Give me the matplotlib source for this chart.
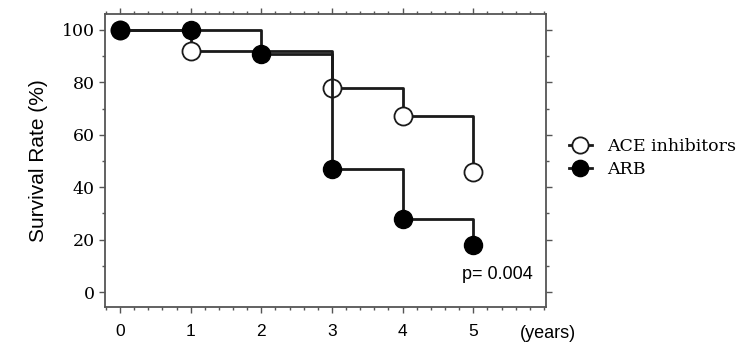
import matplotlib

matplotlib.use("Agg")
import matplotlib.pyplot as plt
from matplotlib.ticker import MultipleLocator

# Kaplan-Meier style survival data (years, %)
ace_years = [0, 1, 3, 4, 5]
ace_survival = [100, 92, 78, 67, 46]
arb_years = [0, 1, 2, 3, 4, 5]
arb_survival = [100, 100, 91, 47, 28, 18]
x_ticks = [0, 1, 2, 3, 4, 5]
y_ticks = [0, 20, 40, 60, 80, 100]

line_col = "#1a1a1a"
spine_col = "#555555"
serif = ["DejaVu Serif"]
sans = ["Liberation Sans", "DejaVu Sans"]

fig = plt.figure(figsize=(7.49, 3.48), dpi=100)
ax = fig.add_axes([0.1402, 0.1178, 0.729 - 0.1402, 0.9598 - 0.1178])

ax.plot(ace_years, ace_survival, drawstyle="steps-post", color=line_col, lw=2,
        marker="o", ms=13, mfc="white", mec=line_col, mew=1.3, label="ACE inhibitors", zorder=3)
ax.plot(arb_years, arb_survival, drawstyle="steps-post", color=line_col, lw=2,
        marker="o", ms=13, mfc="black", mec="black", label="ARB", zorder=4)

ax.set_xlim(-0.212, 6.03)
ax.set_ylim(-5.7, 106.1)

ax.set_xticks(x_ticks)
ax.set_xticklabels([str(t) for t in x_ticks], family=sans, fontsize=12.5)
ax.xaxis.set_minor_locator(MultipleLocator(0.2))
ax.set_yticks(y_ticks)
ax.set_yticklabels([str(v) for v in y_ticks], family=serif, fontsize=12.5)
ax.yaxis.set_minor_locator(MultipleLocator(10))

ax.tick_params(which="both", direction="out", color=spine_col, top=True, right=True,
               labeltop=False, labelright=False)
ax.tick_params(which="major", length=4, width=1)
ax.tick_params(which="minor", length=2, width=1)
ax.tick_params(axis="x", pad=8)
for s in ax.spines.values():
    s.set_color(spine_col)
    s.set_linewidth(1.3)

ax.set_ylabel("Survival Rate (%)", family=sans, fontsize=15, labelpad=10)
ax.text(1.005, -0.09, "(years)", transform=ax.transAxes, family=sans, fontsize=13,
        ha="center", va="center")
ax.text(0.97, 0.11, "p= 0.004", transform=ax.transAxes, family=sans, fontsize=13,
        ha="right", va="center")

fig.legend(loc="center left", bbox_to_anchor=(0.739, 0.545), frameon=False,
           prop={"family": serif, "size": 12.5}, handlelength=1.3, handletextpad=0.9,
           labelspacing=0.35, markerscale=0.9)

fig.savefig("out.png", dpi=100)
plt.close(fig)
